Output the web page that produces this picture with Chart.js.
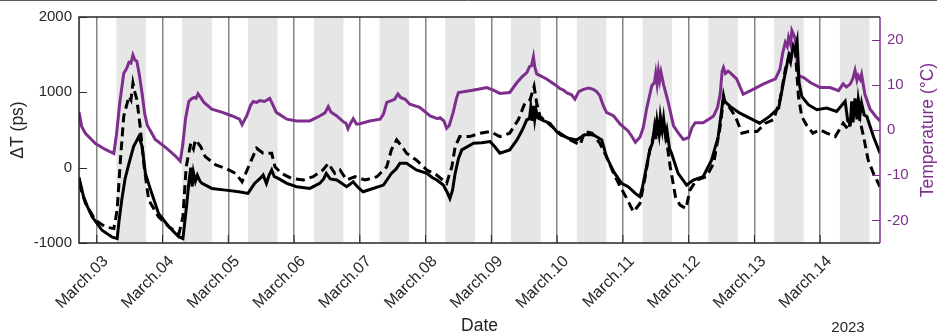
<!DOCTYPE html>
<html>
<head>
<meta charset="utf-8">
<script src="https://cdn.jsdelivr.net/npm/chart.js@4.4.1/dist/chart.umd.min.js"></script>
<style>
  html, body { margin: 0; padding: 0; background: #fff; }
  canvas { display: block; }
</style>
</head>
<body>
<canvas id="chart" width="949" height="335"></canvas>
<script>
// Time is given in days of March 2023 (3.5 = 3 March, 12:00).

// Air temperature (°C)
const tempDays = [2.73, 2.77, 2.83, 2.98, 3.13, 3.26, 3.30, 3.35, 3.41, 3.46, 3.49, 3.52, 3.55, 3.58, 3.61, 3.65, 3.69, 3.73, 3.77, 3.89,
  4.05, 4.20, 4.27, 4.31, 4.35, 4.40, 4.44, 4.48, 4.51, 4.54, 4.58, 4.63, 4.75, 4.91, 5.06, 5.17, 5.21, 5.28, 5.34, 5.38,
  5.43, 5.48, 5.55, 5.63, 5.68, 5.73, 5.89, 6.04, 6.24, 6.39, 6.47, 6.52, 6.56, 6.65, 6.75, 6.79, 6.82, 6.86, 6.90, 6.95,
  7.00, 7.15, 7.31, 7.36, 7.41, 7.48, 7.53, 7.58, 7.62, 7.69, 7.76, 7.91, 8.07, 8.18, 8.22, 8.28, 8.32, 8.36, 8.42, 8.47,
  8.50, 8.67, 8.80, 8.93, 9.03, 9.13, 9.28, 9.39, 9.47, 9.54, 9.58, 9.61, 9.64, 9.66, 9.69, 9.84, 9.99, 10.04, 10.10, 10.15,
  10.22, 10.27, 10.33, 10.40, 10.48, 10.55, 10.60, 10.65, 10.70, 10.75, 10.86, 10.96, 11.08, 11.14, 11.19, 11.26, 11.31, 11.36, 11.44, 11.48,
  11.50, 11.52, 11.54, 11.56, 11.58, 11.62, 11.69, 11.77, 11.85, 11.92, 12.00, 12.05, 12.10, 12.22, 12.30, 12.38, 12.44, 12.48, 12.51, 12.53,
  12.56, 12.60, 12.63, 12.73, 12.83, 12.98, 13.14, 13.32, 13.39, 13.43, 13.47, 13.50, 13.52, 13.55, 13.57, 13.60, 13.62, 13.65, 13.67, 13.75,
  13.85, 14.00, 14.15, 14.28, 14.35, 14.40, 14.46, 14.50, 14.53, 14.56, 14.58, 14.61, 14.63, 14.68, 14.76, 14.84, 14.91];
const tempValues = [4.0, 0.8, -0.8, -3.0, -4.3, -5.2, -1.0, 6.0, 12.5, 13.8, 15.0, 14.8, 16.6, 15.5, 15.2, 12.0, 8.0, 3.5, 1.0, -2.1,
  -3.9, -5.8, -6.9, -3.0, 2.5, 6.3, 6.9, 7.2, 7.0, 8.0, 7.2, 6.1, 4.6, 3.9, 3.1, 2.4, 1.2, 3.1, 5.5, 6.3,
  6.1, 6.5, 6.3, 7.0, 5.5, 3.9, 2.4, 2.0, 2.0, 3.1, 3.8, 5.2, 4.0, 3.1, 1.8, 1.5, 0.3, 1.5, 2.5, 1.3,
  1.4, 2.0, 2.4, 3.5, 6.1, 6.5, 6.8, 8.0, 7.2, 6.8, 5.7, 5.0, 3.1, 2.5, 2.7, 2.0, 0.4, 1.0, 3.9, 7.0,
  8.3, 8.7, 9.0, 9.4, 8.8, 8.1, 8.3, 10.5, 11.8, 12.7, 14.0, 14.2, 16.2, 14.0, 12.4, 11.3, 9.8, 9.2, 8.8, 8.2,
  7.8, 6.8, 8.5, 9.0, 9.3, 9.0, 8.5, 7.6, 5.5, 3.9, 3.1, 1.3, -0.2, -1.5, -2.7, -1.6, 0.5, 4.6, 9.8, 10.5,
  12.5, 10.2, 13.0, 11.0, 12.8, 10.0, 6.1, 0.9, -0.8, -2.1, -1.7, 0.5, 1.6, 1.6, 2.3, 3.1, 5.0, 8.0, 13.0, 13.8,
  12.5, 13.0, 12.7, 11.3, 7.9, 9.0, 10.2, 11.3, 13.5, 17.0, 19.4, 18.5, 20.5, 19.0, 22.0, 21.0, 20.2, 15.0, 12.0, 11.6,
  10.5, 9.4, 9.4, 8.7, 10.2, 9.5, 10.2, 11.5, 13.2, 11.0, 12.0, 11.2, 12.3, 7.9, 4.6, 3.1, 2.0];

// Travel-time change ΔT (ps), first record (solid)
const dtSolidDays = [2.73, 2.80, 2.86, 2.93, 3.08, 3.23, 3.31, 3.34, 3.38, 3.43, 3.49, 3.56, 3.64, 3.69, 3.74, 3.82, 3.94, 4.10, 4.25, 4.31,
  4.37, 4.40, 4.43, 4.45, 4.47, 4.50, 4.53, 4.57, 4.60, 4.75, 4.96, 5.16, 5.30, 5.40, 5.50, 5.53, 5.58, 5.62, 5.66, 5.70,
  5.76, 5.89, 6.04, 6.24, 6.39, 6.45, 6.49, 6.55, 6.65, 6.80, 6.90, 6.97, 7.05, 7.20, 7.36, 7.48, 7.55, 7.61, 7.71, 7.86,
  8.02, 8.10, 8.17, 8.27, 8.33, 8.37, 8.41, 8.45, 8.50, 8.55, 8.73, 8.85, 8.98, 9.05, 9.13, 9.28, 9.39, 9.47, 9.54, 9.58,
  9.60, 9.62, 9.64, 9.66, 9.68, 9.71, 9.80, 9.89, 9.99, 10.06, 10.12, 10.17, 10.30, 10.42, 10.55, 10.62, 10.68, 10.75, 10.86, 10.98,
  11.08, 11.19, 11.26, 11.30, 11.34, 11.41, 11.45, 11.48, 11.50, 11.52, 11.55, 11.57, 11.60, 11.62, 11.65, 11.67, 11.71, 11.74, 11.84, 11.97,
  12.07, 12.22, 12.35, 12.45, 12.50, 12.53, 12.55, 12.63, 12.78, 12.93, 13.08, 13.23, 13.37, 13.44, 13.48, 13.52, 13.55, 13.59, 13.62, 13.65,
  13.68, 13.72, 13.82, 13.95, 14.10, 14.25, 14.38, 14.42, 14.46, 14.48, 14.50, 14.53, 14.56, 14.58, 14.61, 14.63, 14.67, 14.71, 14.81, 14.91];
const dtSolidValues = [-130, -387, -520, -653, -831, -920, -942, -700, -431, -150, 57, 280, 413, 280, -76, -298, -609, -787, -920, -942,
  -476, -200, 0, -250, -60, -180, -100, -180, -209, -276, -298, -320, -342, -209, -130, -98, -209, -100, -31, -120,
  -142, -209, -253, -276, -209, -150, -76, -150, -164, -253, -187, -260, -320, -276, -231, -76, -20, 57, 57, -31,
  -76, -130, -164, -231, -330, -409, -300, -76, 120, 236, 324, 330, 347, 280, 191, 236, 369, 500, 636, 650,
  800, 620, 820, 640, 760, 660, 620, 591, 480, 430, 413, 391, 369, 436, 436, 400, 369, 147, -53, -209,
  -253, -342, -387, -250, -76, 236, 330, 530, 380, 620, 450, 680, 500, 650, 420, 502, 250, 191, -76, -231,
  -164, -120, 102, 413, 750, 960, 880, 813, 724, 658, 591, 680, 791, 1124, 1300, 1480, 1400, 1613, 1550, 1680,
  1124, 947, 836, 769, 791, 747, 880, 620, 591, 880, 600, 920, 640, 902, 720, 857, 700, 680, 413, 191];

// Travel-time change ΔT (ps), second record (dashed)
const dtDashedDays = [2.73, 2.83, 2.98, 3.13, 3.26, 3.31, 3.36, 3.41, 3.49, 3.52, 3.55, 3.58, 3.61, 3.66, 3.72, 3.79, 3.94, 4.10, 4.25, 4.31,
  4.36, 4.43, 4.47, 4.50, 4.58, 4.65, 4.81, 4.96, 5.11, 5.21, 5.33, 5.43, 5.53, 5.66, 5.71, 5.81, 5.96, 6.14, 6.29, 6.44,
  6.52, 6.62, 6.70, 6.80, 6.93, 7.08, 7.26, 7.41, 7.48, 7.56, 7.66, 7.71, 7.86, 8.02, 8.17, 8.32, 8.40, 8.45, 8.52, 8.67,
  8.83, 8.98, 9.13, 9.28, 9.41, 9.51, 9.59, 9.65, 9.69, 9.74, 9.89, 10.04, 10.20, 10.35, 10.42, 10.53, 10.65, 10.75, 10.86, 10.96,
  11.06, 11.16, 11.26, 11.34, 11.41, 11.46, 11.49, 11.52, 11.55, 11.58, 11.62, 11.67, 11.72, 11.80, 11.87, 11.96, 12.02, 12.12, 12.27, 12.38,
  12.48, 12.53, 12.61, 12.71, 12.81, 12.91, 13.04, 13.17, 13.29, 13.39, 13.47, 13.54, 13.62, 13.67, 13.72, 13.79, 13.89, 14.00, 14.10, 14.23,
  14.35, 14.43, 14.51, 14.58, 14.66, 14.73, 14.81, 14.91];
const dtDashedValues = [-209, -476, -698, -787, -809, -564, 102, 680, 947, 900, 1124, 1000, 902, 547, 13, -431, -653, -787, -876, -653,
  13, 324, 250, 369, 280, 147, 36, -9, -76, -187, 57, 258, 191, 191, 13, -76, -142, -164, -120, -31,
  57, -76, -31, -164, -120, -164, -120, 13, 236, 369, 258, 191, 102, -31, -98, -209, 13, 280, 413, 413,
  458, 480, 413, 458, 636, 857, 902, 1080, 857, 680, 569, 460, 369, 302, 480, 458, 324, 147, -76, -253,
  -409, -587, -476, -120, 236, 400, 560, 420, 600, 480, 591, 324, 13, -387, -498, -542, -298, -164, -120, 57,
  547, 902, 813, 680, 458, 480, 480, 591, 636, 902, 1302, 1524, 1569, 947, 680, 569, 458, 502, 458, 413,
  591, 502, 813, 724, 413, 102, -76, -253];

// Axis ticks and labels
const dayTicks = [3, 4, 5, 6, 7, 8, 9, 10, 11, 12, 13, 14];
const dtTicks = [-1000, 0, 1000, 2000];
const tempTicks = [-20, -10, 0, 10, 20];
const dayRange = [2.73, 14.91];
const dtRange = [-1000, 2000];
const tempRange = [-25, 25];
const yearLabel = '2023';

// Daylight hours shaded in grey (fraction of each day)
const daylightStart = 0.30;
const daylightEnd = 0.75;

const PURPLE = '#7E2F8E';
const INK = '#262626';
const FONT = '"Liberation Sans", Arial, Helvetica, sans-serif';

const pairs = (xs, ys) => xs.map((x, i) => ({ x: x, y: ys[i] }));

const frame = {
  id: 'frame',
  beforeDraw(chart) {
    const { ctx, chartArea: a, scales: { x } } = chart;
    ctx.save();
    ctx.fillStyle = '#e6e6e6';
    for (let d = Math.floor(dayRange[0]); d <= Math.ceil(dayRange[1]); d++) {
      const s = Math.max(d + daylightStart, dayRange[0]);
      const e = Math.min(d + daylightEnd, dayRange[1]);
      if (e <= s) continue;
      const x0 = x.getPixelForValue(s), x1 = x.getPixelForValue(e);
      ctx.fillRect(x0, a.top, x1 - x0, a.bottom - a.top);
    }
    ctx.restore();
  },
  afterDraw(chart) {
    const { ctx, chartArea: a, scales: { x, y, y1 } } = chart;
    ctx.save();
    // figure rule along the top edge
    ctx.strokeStyle = '#5a5a5a';
    ctx.lineWidth = 1;
    ctx.beginPath(); ctx.moveTo(0, 0.5); ctx.lineTo(937, 0.5); ctx.stroke();

    // axes box
    ctx.lineWidth = 1.5;
    ctx.strokeStyle = INK;
    ctx.beginPath();
    ctx.moveTo(a.right, a.top); ctx.lineTo(a.left, a.top);
    ctx.lineTo(a.left, a.bottom); ctx.lineTo(a.right, a.bottom);
    ctx.stroke();
    ctx.strokeStyle = PURPLE;
    ctx.beginPath(); ctx.moveTo(a.right, a.top); ctx.lineTo(a.right, a.bottom); ctx.stroke();

    // inward tick marks
    const len = 8;
    ctx.lineWidth = 1;
    ctx.strokeStyle = INK;
    ctx.beginPath();
    dtTicks.forEach(v => { const p = Math.round(y.getPixelForValue(v)) + 0.5; ctx.moveTo(a.left, p); ctx.lineTo(a.left + len, p); });
    dayTicks.forEach(v => { const p = x.getPixelForValue(v); ctx.moveTo(p, a.bottom); ctx.lineTo(p, a.bottom - len); });
    ctx.stroke();
    ctx.strokeStyle = PURPLE;
    ctx.beginPath();
    tempTicks.forEach(v => { const p = Math.round(y1.getPixelForValue(v)) + 0.5; ctx.moveTo(a.right, p); ctx.lineTo(a.right - len, p); });
    ctx.stroke();

    // right axis title, reading upwards
    ctx.fillStyle = PURPLE;
    ctx.font = '17.5px ' + FONT;
    ctx.textAlign = 'center';
    ctx.textBaseline = 'middle';
    ctx.translate(a.right + 48, (a.top + a.bottom) / 2);
    ctx.rotate(-Math.PI / 2);
    ctx.fillText('Temperature (°C)', 0, 0);
    ctx.setTransform(1, 0, 0, 1, 0, 0);

    // year under the last date label
    ctx.fillStyle = INK;
    ctx.font = '15px ' + FONT;
    ctx.textAlign = 'center';
    ctx.textBaseline = 'alphabetic';
    ctx.fillText(yearLabel, a.right - 32, 332);
    ctx.restore();
  }
};

new Chart(document.getElementById('chart'), {
  type: 'line',
  data: {
    datasets: [
      {
        label: 'ΔT solid',
        data: pairs(dtSolidDays, dtSolidValues),
        yAxisID: 'y',
        borderColor: '#000',
        borderWidth: 3,
        pointRadius: 0,
        tension: 0
      },
      {
        label: 'ΔT dashed',
        data: pairs(dtDashedDays, dtDashedValues),
        yAxisID: 'y',
        borderColor: '#000',
        borderWidth: 3,
        borderDash: [9, 5],
        pointRadius: 0,
        tension: 0
      },
      {
        label: 'Temperature',
        data: pairs(tempDays, tempValues),
        yAxisID: 'y1',
        borderColor: PURPLE,
        borderWidth: 3,
        pointRadius: 0,
        tension: 0
      }
    ]
  },
  options: {
    responsive: false,
    animation: false,
    events: [],
    layout: { padding: { top: 17, left: 0, right: 0, bottom: 0 } },
    plugins: { legend: { display: false }, tooltip: { enabled: false } },
    scales: {
      x: {
        type: 'linear',
        min: dayRange[0],
        max: dayRange[1],
        afterBuildTicks: s => { s.ticks = dayTicks.map(v => ({ value: v })); },
        afterFit: s => { s.height = 92; },
        border: { display: false },
        grid: { color: '#858585', lineWidth: 1.5, drawTicks: false },
        ticks: {
          autoSkip: false,
          maxRotation: 45,
          minRotation: 45,
          padding: 9,
          labelOffset: 9,
          color: INK,
          font: { family: FONT, size: 16 },
          callback: v => 'March.' + String(v).padStart(2, '0')
        },
        title: {
          display: true,
          text: 'Date',
          color: INK,
          font: { family: FONT, size: 17.5, lineHeight: 1 },
          padding: { top: 0, bottom: 0 }
        }
      },
      y: {
        position: 'left',
        min: dtRange[0],
        max: dtRange[1],
        afterBuildTicks: s => { s.ticks = dtTicks.map(v => ({ value: v })); },
        afterFit: s => { s.width = 79; },
        border: { display: false },
        grid: { display: false, drawTicks: false },
        ticks: { padding: 7, color: INK, font: { family: FONT, size: 15 }, callback: v => String(v) },
        title: {
          display: true,
          text: 'ΔT (ps)',
          color: INK,
          font: { family: FONT, size: 17.5, lineHeight: 1 },
          padding: { top: 9, bottom: 0 }
        }
      },
      y1: {
        position: 'right',
        min: tempRange[0],
        max: tempRange[1],
        afterBuildTicks: s => { s.ticks = tempTicks.map(v => ({ value: v })); },
        afterFit: s => { s.width = 69; },
        border: { display: false },
        grid: { display: false, drawTicks: false },
        ticks: { padding: 7, color: PURPLE, font: { family: FONT, size: 15 }, callback: v => String(v) }
      }
    }
  },
  plugins: [frame]
});
</script>
</body>
</html>
